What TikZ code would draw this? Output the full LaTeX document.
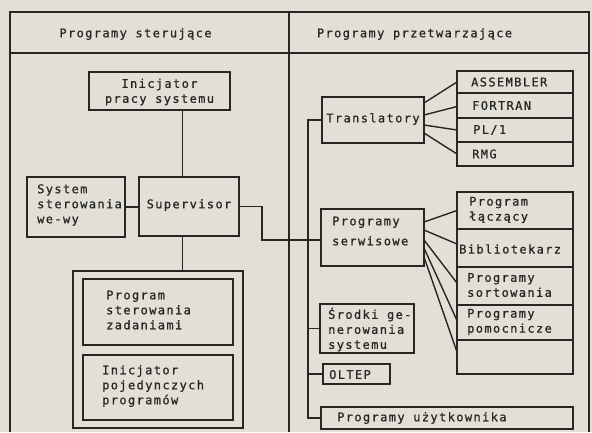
\documentclass[tikz,border=0pt]{standalone}
\usepackage{fontspec}
\newfontfamily\hand{DejaVu Sans Mono}[LetterSpace=11.5,FakeBold=0.8]
\usetikzlibrary{calc,fit}
\definecolor{paper}{RGB}{226,224,214}
\definecolor{ink}{RGB}{38,38,36}
\begin{document}
\begin{tikzpicture}[x=1pt,y=-1pt,
  box/.style={draw=ink, line width=1.7pt, rectangle, inner sep=0pt, outer sep=0pt},
  txt/.style={font=\hand\fontsize{12}{15}\selectfont, text=ink, inner sep=0pt, align=left, anchor=west},
  ctxt/.style={txt, align=center, anchor=center},
  conn/.style={draw=ink, line width=1.4pt},
  frameline/.style={draw=ink, line width=1.6pt}]
\fill[paper] (0,0) rectangle (592,432);
\useasboundingbox (0,0) rectangle (592,432);
% frame
\draw[frameline] (10,432) -- (10,12) -- (589,12) -- (589,432);
\draw[frameline] (10,53) -- (589,53);
\draw[frameline] (289,12) -- (289,432);
\node[ctxt] (h1) at (135.5,34) {Programy sterujące};
\node[ctxt] (h2) at (414.5,34) {Programy przetwarzające};
% left column
\node[box, fit={(89,72) (230,110)}] (init) {};
\node[ctxt] (initt) at (159.5,92) {Inicjator\\pracy systemu};
\node[box, fit={(27,177) (125,237)}] (ioctl) {};
\node[txt] (ioctlt) at (37,205) {System\\sterowania\\we-wy};
\node[box, fit={(139,177) (239,236)}] (sup) {};
\node[ctxt] (supt) at (189,205) {Supervisor};
\node[box, fit={(73,271) (243,428)}] (outer) {};
\node[box, fit={(83,279) (233,345)}] (zad) {};
\node[txt] (zadt) at (106,310) {Program\\sterowania\\zadaniami};
\node[box, fit={(83,355) (233,420)}] (inip) {};
\node[txt] (inipt) at (102,386) {Inicjator\\pojedynczych\\programów};
% right column
\node[box, fit={(322,97) (424,143)}] (trans) {};
\node[ctxt] (transt) at (373,119) {Translatory};
\node[box, fit={(457,71) (573,93)}] (asm) {};
\node[box, fit={(457,93) (573,118)}] (fort) {};
\node[box, fit={(457,118) (573,142)}] (pl) {};
\node[box, fit={(457,142) (573,166)}] (rmg) {};
\node[txt] (asmt) at (471,82) {ASSEMBLER};
\node[txt] (fortt) at (472,105.5) {FORTRAN};
\node[txt] (plt) at (473,130) {PL/1};
\node[txt] (rmgt) at (472,154) {RMG};
\node[box, fit={(321,209) (424,266)}] (serw) {};
\node[txt, align=left] (serwt) at (332,231) {Programy\\[5pt]serwisowe};
\node[box, fit={(457,192) (573,229)}] (lk) {};
\node[box, fit={(457,229) (573,267)}] (bib) {};
\node[box, fit={(457,267) (573,305)}] (sort) {};
\node[box, fit={(457,305) (573,340)}] (pom) {};
\node[box, fit={(457,340) (573,374)}] (emp) {};
\node[txt] (lkt) at (469,210) {Program\\łączący};
\node[txt] (bibt) at (459,249) {Bibliotekarz};
\node[txt] (sortt) at (467,285) {Programy\\sortowania};
\node[txt] (pomt) at (467,322) {Programy\\pomocnicze};
\node[box, fit={(320,304) (414,353)}] (srod) {};
\node[txt] (srodt) at (328,329.5) {Środki ge-\\nerowania\\systemu};
\node[box, fit={(323,364) (390,384)}] (olt) {};
\node[txt] (oltt) at (329,374.5) {OLTEP};
\node[box, fit={(321,407) (573,429)}] (user) {};
\node[txt] (usert) at (337,418) {Programy użytkownika};
% connectors left
\draw[conn] ([xshift=23pt]init.south) -- ([xshift=23pt]init.south |- sup.north);
\draw[conn] (ioctl.east) -- (ioctl.east -| sup.west);
\draw[conn] ([xshift=-6.5pt]sup.south) -- ([xshift=-6.5pt]sup.south |- outer.north);
\coordinate (supbend) at (262,240);
\draw[conn] (sup.east) -| (supbend) -- (supbend -| serw.west);
% bus
\coordinate (bustop) at (308,120);
\coordinate (busbot) at (308,418);
\draw[conn] (trans.west) -- (bustop) -- (busbot) -- (user.west);
\draw[conn] (bustop |- srod.west) -- (srod.west);
\draw[conn] (bustop |- olt.west) -- (olt.west);
% translator fan
\draw[conn] ([yshift=17pt]trans.east) -- (asm.west);
\draw[conn] ([yshift=5pt]trans.east) -- ([yshift=-1pt]fort.west);
\draw[conn] ([yshift=-5pt]trans.east) -- (pl.west);
\draw[conn] ([yshift=-13pt]trans.east) -- (rmg.west);
% service fan
\draw[conn] ([yshift=15.5pt]serw.east) -- (lk.west);
\draw[conn] ([yshift=7.5pt]serw.east) -- ([yshift=4pt]bib.west);
\draw[conn] ([yshift=-2.5pt]serw.east) -- ([yshift=3pt]sort.west);
\draw[conn] ([yshift=-10.5pt]serw.east) -- ([yshift=2pt]pom.west);
\draw[conn] ([yshift=-19.5pt]serw.east) -- ([yshift=5pt]emp.west);
\end{tikzpicture}
\end{document}
